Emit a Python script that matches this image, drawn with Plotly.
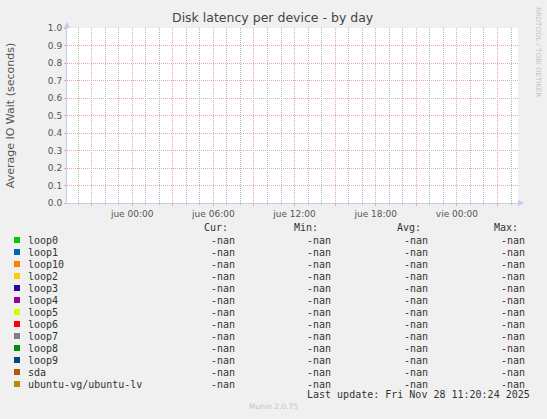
import pandas as pd
import plotly.graph_objects as go

# devices shown in the munin legend, with munin's default palette
devices = ['loop0', 'loop1', 'loop10', 'loop2', 'loop3', 'loop4', 'loop5',
           'loop6', 'loop7', 'loop8', 'loop9', 'sda', 'ubuntu-vg/ubuntu-lv']
colors = ['#00cc00', '#0066b3', '#ff8000', '#ffcc00', '#330099', '#990099',
          '#ccff00', '#ff0000', '#808080', '#008f00', '#00487d', '#b35a00',
          '#b38f00']
cur = ['-nan'] * len(devices)
vmin = ['-nan'] * len(devices)
vavg = ['-nan'] * len(devices)
vmax = ['-nan'] * len(devices)

# no samples in the period: every series is empty
times = ['2025-11-26 19:11', '2025-11-28 04:31']
values = [None, None]

tick_labels = ['jue 00:00', 'jue 06:00', 'jue 12:00', 'jue 18:00', 'vie 00:00']
tick_times = ['2025-11-27 00:00', '2025-11-27 06:00', '2025-11-27 12:00',
              '2025-11-27 18:00', '2025-11-28 00:00']

W, H = 547, 419
L, R, T, B = 67, 518, 28, 203


def px(x):
    return (x - L) / (R - L)


def py(y):
    return (B - y) / (B - T)


fig = go.Figure()
for dev, col in zip(devices, colors):
    fig.add_trace(go.Scatter(x=times, y=values, name=dev, mode='lines',
                             line=dict(color=col, width=1), showlegend=False))

# red major grid every 3 hours (labels every 6), grey minor grid on the other hours
hours = pd.date_range('2025-11-26 20:00', '2025-11-28 04:00', freq='1h')
tv, tt, minor_v = [], [], []
for t in hours:
    s = t.strftime('%Y-%m-%d %H:%M')
    if t.hour % 3 == 0:
        tv.append(s)
        tt.append(tick_labels[tick_times.index(s)] if s in tick_times else '')
    else:
        minor_v.append(s)

dots = '1px,1px'
red = '#e6a8a8'
grey = '#b4b4b4'
fig.update_layout(
    xaxis=dict(range=times, type='date', tickmode='array', tickvals=tv, ticktext=tt,
               showgrid=True, gridcolor=red, griddash=dots, gridwidth=1,
               ticks='outside', ticklen=2, tickcolor=red,
               showline=True, linecolor='#c8c8f0', linewidth=1,
               tickfont=dict(family='DejaVu Sans', size=9, color='#555555'),
               zeroline=False, fixedrange=True, automargin=False),
    # hourly grey grid on an overlaid, label-less axis
    xaxis2=dict(range=times, type='date', overlaying='x', side='bottom',
                tickmode='array', tickvals=minor_v, showticklabels=False,
                showgrid=True, gridcolor=grey, griddash=dots, gridwidth=1,
                ticks='outside', ticklen=1, tickcolor=grey, showline=False,
                zeroline=False, fixedrange=True, automargin=False),
    yaxis=dict(range=[0, 1], dtick=0.1, tickformat='.1f',
               showgrid=True, gridcolor=red, griddash=dots, gridwidth=1,
               ticks='outside', ticklen=2, tickcolor=red,
               showline=True, linecolor='#c8c8f0', linewidth=1,
               tickfont=dict(family='DejaVu Sans', size=9, color='#555555'),
               title=dict(text='Average IO Wait (seconds)', standoff=31,
                          font=dict(family='DejaVu Sans', size=11, color='#555555')),
               zeroline=False, fixedrange=True, automargin=False),
)
fig.add_trace(go.Scatter(x=times, y=values, xaxis='x2', mode='lines',
                         hoverinfo='skip', showlegend=False))

shapes = [
    # axis arrows
    dict(type='path', xref='paper', yref='paper', xsizemode='pixel', ysizemode='pixel',
         xanchor=0, yanchor=1, path='M -3 0 L 3 0 L 0 6 Z',
         fillcolor='#c8c8f0', line=dict(width=0)),
    dict(type='path', xref='paper', yref='paper', xsizemode='pixel', ysizemode='pixel',
         xanchor=1, yanchor=0, path='M 0 3 L 0 -3 L 6 0 Z',
         fillcolor='#c8c8f0', line=dict(width=0)),
]
annotations = [
    dict(text='Disk latency per device - by day', x=px(273), y=py(18),
         font=dict(family='DejaVu Sans', size=12.5, color='#444444')),
    dict(text='RRDTOOL / TOBI OETIKER', x=px(538), y=py(52), textangle=90,
         font=dict(family='DejaVu Sans', size=7, color='#c4c4c4')),
    dict(text='Munin 2.0.75', x=px(273), y=py(407),
         font=dict(family='DejaVu Sans', size=7.5, color='#c4c4c4')),
    dict(text='Last update: Fri Nov 28 11:20:24 2025', x=px(532), y=py(395), xanchor='right',
         font=dict(family='DejaVu Sans Mono', size=10, color='#333333')),
]

mono = dict(family='DejaVu Sans Mono', size=10, color='#333333')
for head, xr in [('Cur:', 230), ('Min:', 320), ('Avg:', 423), ('Max:', 520)]:
    annotations.append(dict(text=head, x=px(xr), y=py(227), xanchor='right', font=mono))

for i, dev in enumerate(devices):
    yy = 240 + 12 * i
    shapes.append(dict(type='rect', xref='paper', yref='paper',
                       x0=px(14), x1=px(20), y0=py(yy - 3), y1=py(yy + 3),
                       fillcolor=colors[i], line=dict(width=0)))
    annotations.append(dict(text=dev, x=px(26), y=py(yy), xanchor='left', font=mono))
    for vals, xr in [(cur, 237), (vmin, 333), (vavg, 430), (vmax, 527)]:
        annotations.append(dict(text=vals[i], x=px(xr), y=py(yy), xanchor='right', font=mono))

for a in annotations:
    a.update(xref='paper', yref='paper', showarrow=False)
    a.setdefault('xanchor', 'center')
    a['yanchor'] = 'middle'

fig.update_layout(width=W, height=H, margin=dict(l=L, r=W - R, t=T, b=H - B),
                  paper_bgcolor='#f0f0f0', plot_bgcolor='#ffffff',
                  shapes=shapes, annotations=annotations, showlegend=False)

# page body has a default margin; drop it so the figure sits at the window corner
fig.write_html('out.html', config={'displayModeBar': False},
               post_script="document.body.style.margin='0';")
